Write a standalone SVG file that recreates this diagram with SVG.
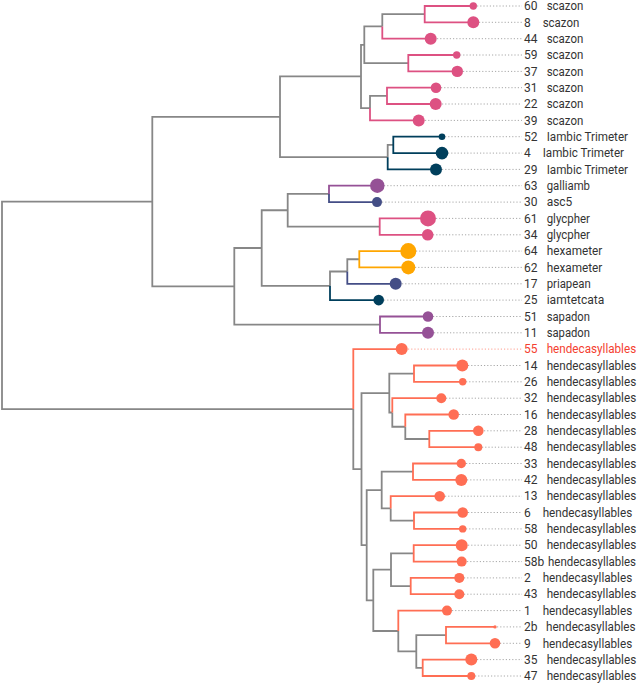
<svg xmlns="http://www.w3.org/2000/svg" width="640" height="695" viewBox="0 0 640 695">
<style>
.e{fill:none;stroke-width:1.8;stroke-linejoin:miter;stroke-linecap:butt}
.g{stroke:#878787}.pk{stroke:#dd5182}.nv{stroke:#003f5c}.pu{stroke:#955196}.bl{stroke:#444e86}.or{stroke:#ffa600}.co{stroke:#ff6e54}
.fpk{fill:#dd5182}.fnv{fill:#003f5c}.fpu{fill:#955196}.fbl{fill:#444e86}.for{fill:#ffa600}.fco{fill:#ff6e54}
.d{stroke:#a8a8a8;stroke-width:1;stroke-dasharray:1.2 2;fill:none}
.dr{stroke:#ff9d8e;stroke-width:1;stroke-dasharray:1.2 2;fill:none}
text{font-family:Roboto,"Liberation Sans",sans-serif;font-size:12px;fill:#333}
text.r{fill:#f4402f}
</style>
<g id="connectors">
<path class="e g" d="M152.3 201.55H2V409.1H353.3 M280 116.8H152.3V286.3H234.3 M361 76.45H280V157.15H387.7 M364.3 44.8H361V108.1H370 M382.3 26.4H364.3V63.2H408.3 M424.7 14.15H382.3V26.4 M387 95.85H370V108.1 M393.3 144.9H387.7V157.15 M261.7 248H234.3V324.65H380 M287.7 210.25H261.7V285.8H330 M329 193.9H287.7V226.6H379.7 M359.3 259.25H347.3V271.5 M347.3 271.5H330V285.8"/>
<path class="e pk" d="M473.3 6H424.7V22.3H473.3 M382.3 26.4V38.7H430.7 M456.7 55H408.3V71.4H457.3 M436 87.7H387V104H435.7 M370 108.1V120.4H418.7 M428 218.4H379.7V234.8H427.7"/>
<path class="e nv" d="M442 136.7H393.3V153.1H442 M387.7 157.15V169.4H436 M330 285.8V300.1H378.7"/>
<path class="e pu" d="M377.3 185.7H329V193.9 M428 316.5H380V332.8H428"/>
<path class="e bl" d="M329 193.9V202.1H377 M347.3 271.5V283.8H395.7"/>
<path class="e or" d="M408.3 251.1H359.3V267.4H408.3"/>
<path class="e g" d="M353.3 409.1V469.15H361.5 M389.3 393.1H361.5V545.2H366.7 M414 373.65H389.3V412.5H392.3 M392.3 412.5V426.75H405.3 M405.3 426.75V439H429.3 M381.7 490.1H366.7V600.35H373.3 M413 471.7H381.7V508.45H390.7 M390.7 508.45V520.7H414 M391 569.7H373.3V631H398.3 M413.7 553.4H391V586.05H410.7 M398.3 631V651.45H416.3 M446 635.1H416.3V667.8H422.7"/>
<path class="e co" d="M401.7 349.1H353.3V409.1 M462.3 365.5H414V381.8H462.7 M441.3 398.2H392.3V412.5 M453.7 414.5H405.3V426.75 M478.3 430.8H429.3V447.2H478.3 M461.3 463.5H413V479.9H461.3 M439.7 496.2H390.7V508.45 M462.7 512.5H414V528.9H462.7 M461.7 545.2H413.7V561.6H461.7 M459.3 577.9H410.7V594.2H459.3 M447 610.6H398.3V631 M495 626.9H446V643.3H495 M471.3 659.6H422.7V676H471.3"/>
</g>
<g id="leaf-60"><path class="d" d="M477 6H522"/><circle class="fpk" cx="473.3" cy="6" r="3.7"/><text x="524" y="10.2">60</text><text x="546.7" y="10.2" textLength="36.6" lengthAdjust="spacingAndGlyphs">scazon</text></g>
<g id="leaf-8"><path class="d" d="M479 22.3H522"/><circle class="fpk" cx="473.3" cy="22.3" r="6"/><text x="524" y="26.5">8</text><text x="542.7" y="26.5" textLength="36.6" lengthAdjust="spacingAndGlyphs">scazon</text></g>
<g id="leaf-44"><path class="d" d="M437 38.7H522"/><circle class="fpk" cx="430.7" cy="38.7" r="6"/><text x="524" y="42.9">44</text><text x="546.7" y="42.9" textLength="36.6" lengthAdjust="spacingAndGlyphs">scazon</text></g>
<g id="leaf-59"><path class="d" d="M460 55H522"/><circle class="fpk" cx="456.7" cy="55" r="3.7"/><text x="524" y="59.2">59</text><text x="546.7" y="59.2" textLength="36.6" lengthAdjust="spacingAndGlyphs">scazon</text></g>
<g id="leaf-37"><path class="d" d="M463 71.4H522"/><circle class="fpk" cx="457.3" cy="71.4" r="5.7"/><text x="524" y="75.6">37</text><text x="546.7" y="75.6" textLength="36.6" lengthAdjust="spacingAndGlyphs">scazon</text></g>
<g id="leaf-31"><path class="d" d="M441 87.7H522"/><circle class="fpk" cx="436" cy="87.7" r="5.3"/><text x="524" y="91.9">31</text><text x="546.7" y="91.9" textLength="36.6" lengthAdjust="spacingAndGlyphs">scazon</text></g>
<g id="leaf-22"><path class="d" d="M442 104H522"/><circle class="fpk" cx="435.7" cy="104" r="6"/><text x="524" y="108.2">22</text><text x="546.7" y="108.2" textLength="36.6" lengthAdjust="spacingAndGlyphs">scazon</text></g>
<g id="leaf-39"><path class="d" d="M425 120.4H522"/><circle class="fpk" cx="418.7" cy="120.4" r="6"/><text x="524" y="124.6">39</text><text x="546.7" y="124.6" textLength="36.6" lengthAdjust="spacingAndGlyphs">scazon</text></g>
<g id="leaf-52"><path class="d" d="M445 136.7H522"/><circle class="fnv" cx="442" cy="136.7" r="3.3"/><text x="524" y="140.9">52</text><text x="546.7" y="140.9" textLength="81.3" lengthAdjust="spacingAndGlyphs">Iambic Trimeter</text></g>
<g id="leaf-4"><path class="d" d="M448 153.1H522"/><circle class="fnv" cx="442" cy="153.1" r="6.3"/><text x="524" y="157.3">4</text><text x="542.7" y="157.3" textLength="81.3" lengthAdjust="spacingAndGlyphs">Iambic Trimeter</text></g>
<g id="leaf-29"><path class="d" d="M442 169.4H522"/><circle class="fnv" cx="436" cy="169.4" r="6"/><text x="524" y="173.6">29</text><text x="546.7" y="173.6" textLength="81.3" lengthAdjust="spacingAndGlyphs">Iambic Trimeter</text></g>
<g id="leaf-63"><path class="d" d="M384 185.7H522"/><circle class="fpu" cx="377.3" cy="185.7" r="7.2"/><text x="524" y="189.9">63</text><text x="546.7" y="189.9" textLength="43.3" lengthAdjust="spacingAndGlyphs">galliamb</text></g>
<g id="leaf-30"><path class="d" d="M382 202.1H522"/><circle class="fbl" cx="377" cy="202.1" r="5"/><text x="524" y="206.3">30</text><text x="546.7" y="206.3" textLength="25.6" lengthAdjust="spacingAndGlyphs">asc5</text></g>
<g id="leaf-61"><path class="d" d="M436 218.4H522"/><circle class="fpk" cx="428" cy="218.4" r="8"/><text x="524" y="222.6">61</text><text x="546.7" y="222.6" textLength="43.3" lengthAdjust="spacingAndGlyphs">glycpher</text></g>
<g id="leaf-34"><path class="d" d="M433 234.8H522"/><circle class="fpk" cx="427.7" cy="234.8" r="5.8"/><text x="524" y="239">34</text><text x="546.7" y="239" textLength="43.3" lengthAdjust="spacingAndGlyphs">glycpher</text></g>
<g id="leaf-64"><path class="d" d="M416 251.1H522"/><circle class="for" cx="408.3" cy="251.1" r="8"/><text x="524" y="255.3">64</text><text x="546.7" y="255.3" textLength="55.6" lengthAdjust="spacingAndGlyphs">hexameter</text></g>
<g id="leaf-62"><path class="d" d="M415 267.4H522"/><circle class="for" cx="408.3" cy="267.4" r="7"/><text x="524" y="271.6">62</text><text x="546.7" y="271.6" textLength="55.6" lengthAdjust="spacingAndGlyphs">hexameter</text></g>
<g id="leaf-17"><path class="d" d="M402 283.8H522"/><circle class="fbl" cx="395.7" cy="283.8" r="6"/><text x="524" y="288">17</text><text x="546.7" y="288" textLength="44" lengthAdjust="spacingAndGlyphs">priapean</text></g>
<g id="leaf-25"><path class="d" d="M384 300.1H522"/><circle class="fnv" cx="378.7" cy="300.1" r="5.3"/><text x="524" y="304.3">25</text><text x="546.7" y="304.3" textLength="57.6" lengthAdjust="spacingAndGlyphs">iamtetcata</text></g>
<g id="leaf-51"><path class="d" d="M433 316.5H522"/><circle class="fpu" cx="428" cy="316.5" r="5.3"/><text x="524" y="320.7">51</text><text x="546.7" y="320.7" textLength="43.3" lengthAdjust="spacingAndGlyphs">sapadon</text></g>
<g id="leaf-11"><path class="d" d="M434 332.8H522"/><circle class="fpu" cx="428" cy="332.8" r="6"/><text x="524" y="337">11</text><text x="546.7" y="337" textLength="43.3" lengthAdjust="spacingAndGlyphs">sapadon</text></g>
<g id="leaf-55"><path class="dr" d="M408 349.1H522"/><circle class="fco" cx="401.7" cy="349.1" r="6"/><text class="r" x="524" y="353.3">55</text><text class="r" x="546.7" y="353.3" textLength="89.5" lengthAdjust="spacingAndGlyphs">hendecasyllables</text></g>
<g id="leaf-14"><path class="d" d="M468 365.5H522"/><circle class="fco" cx="462.3" cy="365.5" r="6"/><text x="524" y="369.7">14</text><text x="546.7" y="369.7" textLength="89.5" lengthAdjust="spacingAndGlyphs">hendecasyllables</text></g>
<g id="leaf-26"><path class="d" d="M466 381.8H522"/><circle class="fco" cx="462.7" cy="381.8" r="3.7"/><text x="524" y="386">26</text><text x="546.7" y="386" textLength="89.5" lengthAdjust="spacingAndGlyphs">hendecasyllables</text></g>
<g id="leaf-32"><path class="d" d="M446 398.2H522"/><circle class="fco" cx="441.3" cy="398.2" r="5"/><text x="524" y="402.4">32</text><text x="546.7" y="402.4" textLength="89.5" lengthAdjust="spacingAndGlyphs">hendecasyllables</text></g>
<g id="leaf-16"><path class="d" d="M459 414.5H522"/><circle class="fco" cx="453.7" cy="414.5" r="5.3"/><text x="524" y="418.7">16</text><text x="546.7" y="418.7" textLength="89.5" lengthAdjust="spacingAndGlyphs">hendecasyllables</text></g>
<g id="leaf-28"><path class="d" d="M484 430.8H522"/><circle class="fco" cx="478.3" cy="430.8" r="5.3"/><text x="524" y="435">28</text><text x="546.7" y="435" textLength="89.5" lengthAdjust="spacingAndGlyphs">hendecasyllables</text></g>
<g id="leaf-48"><path class="d" d="M482 447.2H522"/><circle class="fco" cx="478.3" cy="447.2" r="4"/><text x="524" y="451.4">48</text><text x="546.7" y="451.4" textLength="89.5" lengthAdjust="spacingAndGlyphs">hendecasyllables</text></g>
<g id="leaf-33"><path class="d" d="M466 463.5H522"/><circle class="fco" cx="461.3" cy="463.5" r="4.7"/><text x="524" y="467.7">33</text><text x="546.7" y="467.7" textLength="89.5" lengthAdjust="spacingAndGlyphs">hendecasyllables</text></g>
<g id="leaf-42"><path class="d" d="M467 479.9H522"/><circle class="fco" cx="461.3" cy="479.9" r="6"/><text x="524" y="484.1">42</text><text x="546.7" y="484.1" textLength="89.5" lengthAdjust="spacingAndGlyphs">hendecasyllables</text></g>
<g id="leaf-13"><path class="d" d="M445 496.2H522"/><circle class="fco" cx="439.7" cy="496.2" r="5.3"/><text x="524" y="500.4">13</text><text x="546.7" y="500.4" textLength="89.5" lengthAdjust="spacingAndGlyphs">hendecasyllables</text></g>
<g id="leaf-6"><path class="d" d="M468 512.5H522"/><circle class="fco" cx="462.7" cy="512.5" r="5.3"/><text x="524" y="516.7">6</text><text x="542.7" y="516.7" textLength="89.5" lengthAdjust="spacingAndGlyphs">hendecasyllables</text></g>
<g id="leaf-58"><path class="d" d="M466 528.9H522"/><circle class="fco" cx="462.7" cy="528.9" r="3.7"/><text x="524" y="533.1">58</text><text x="546.7" y="533.1" textLength="89.5" lengthAdjust="spacingAndGlyphs">hendecasyllables</text></g>
<g id="leaf-50"><path class="d" d="M468 545.2H522"/><circle class="fco" cx="461.7" cy="545.2" r="6"/><text x="524" y="549.4">50</text><text x="546.7" y="549.4" textLength="89.5" lengthAdjust="spacingAndGlyphs">hendecasyllables</text></g>
<g id="leaf-58b"><path class="d" d="M467 561.6H522"/><circle class="fco" cx="461.7" cy="561.6" r="5"/><text x="524" y="565.8">58b</text><text x="548" y="565.8" textLength="88" lengthAdjust="spacingAndGlyphs">hendecasyllables</text></g>
<g id="leaf-2"><path class="d" d="M464 577.9H522"/><circle class="fco" cx="459.3" cy="577.9" r="5"/><text x="524" y="582.1">2</text><text x="542.7" y="582.1" textLength="89.5" lengthAdjust="spacingAndGlyphs">hendecasyllables</text></g>
<g id="leaf-43"><path class="d" d="M464 594.2H522"/><circle class="fco" cx="459.3" cy="594.2" r="5"/><text x="524" y="598.4">43</text><text x="546.7" y="598.4" textLength="89.5" lengthAdjust="spacingAndGlyphs">hendecasyllables</text></g>
<g id="leaf-1"><path class="d" d="M452 610.6H522"/><circle class="fco" cx="447" cy="610.6" r="5"/><text x="524" y="614.8">1</text><text x="542.7" y="614.8" textLength="89.5" lengthAdjust="spacingAndGlyphs">hendecasyllables</text></g>
<g id="leaf-2b"><path class="d" d="M497 626.9H522"/><circle class="fco" cx="495" cy="626.9" r="1.7"/><text x="524" y="631.1">2b</text><text x="546" y="631.1" textLength="89.5" lengthAdjust="spacingAndGlyphs">hendecasyllables</text></g>
<g id="leaf-9"><path class="d" d="M500 643.3H522"/><circle class="fco" cx="495" cy="643.3" r="5.3"/><text x="524" y="647.5">9</text><text x="542.7" y="647.5" textLength="89.5" lengthAdjust="spacingAndGlyphs">hendecasyllables</text></g>
<g id="leaf-35"><path class="d" d="M477 659.6H522"/><circle class="fco" cx="471.3" cy="659.6" r="6"/><text x="524" y="663.8">35</text><text x="546.7" y="663.8" textLength="89.5" lengthAdjust="spacingAndGlyphs">hendecasyllables</text></g>
<g id="leaf-47"><path class="d" d="M475 676H522"/><circle class="fco" cx="471.3" cy="676" r="4"/><text x="524" y="680.2">47</text><text x="546.7" y="680.2" textLength="89.5" lengthAdjust="spacingAndGlyphs">hendecasyllables</text></g>
</svg>
